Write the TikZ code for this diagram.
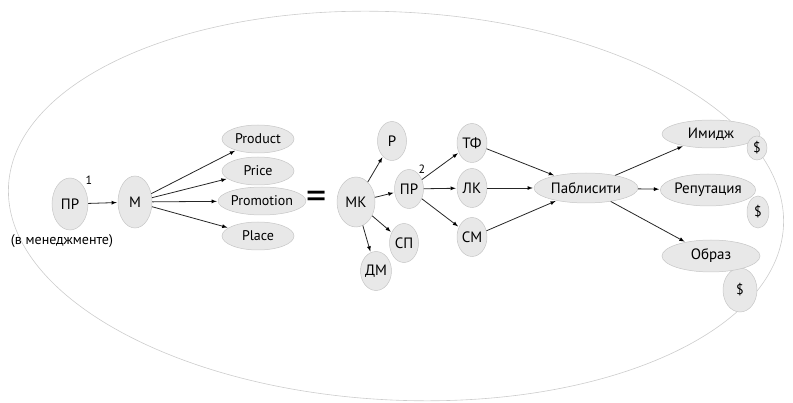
\documentclass[tikz,border=0pt]{standalone}
\usepackage{fontspec}
\setmainfont{PT Sans}
\usetikzlibrary{arrows,shapes.geometric}

\begin{document}
\begin{tikzpicture}[x=1pt,y=-1pt,>=latex,shorten >=1pt,line width=0.8pt,
    main/.style={ellipse,fill=gray!18,draw=gray!45,line width=0.5pt,inner sep=0pt,
      font=\fontsize{15}{17}\selectfont,text=black},
    big/.style={main,minimum width=36pt,minimum height=52pt},
    small/.style={main,minimum width=29pt,minimum height=39pt},
    pill/.style={main,minimum width=72pt,minimum height=28pt,font=\fontsize{14}{16}\selectfont},
    wide/.style={main,minimum width=98pt,minimum height=30pt},
    dollar/.style={main,font=\fontsize{14}{16}\selectfont}]
  \useasboundingbox (0,0) rectangle (793,403);
  \draw[gray!40,line width=0.6pt,rotate around={-3:(396,206)}] (396,206) ellipse [x radius=388, y radius=194];
  % left part
  \node[big] (pr1) at (70,204) {ПР};
  \node[font=\fontsize{12}{13}\selectfont] (one) at (89,180) {1};
  \node[font=\fontsize{14}{16}\selectfont] (mgmt) at (62,241) {(в менеджменте)};
  \node[big,minimum width=34pt] (m) at (135,202) {М};
  \node[pill] (product) at (258,139) {Product};
  \node[pill] (price) at (258,171) {Price};
  \node[pill] (promotion) at (262,201) {Promotion};
  \node[pill] (place) at (258,236) {Place};
  \node[font=\fontsize{40}{40}\selectfont] (eq) at (317,200) {=};
  % middle part
  \node[big,minimum width=38pt,minimum height=50pt] (mk) at (356,202) {МК};
  \node[small] (p) at (392,141) {Р};
  \node[small] (pr2) at (409,189) {ПР};
  \node[font=\fontsize{12}{13}\selectfont] (two) at (422,169) {2};
  \node[small] (sp) at (404,243) {СП};
  \node[small] (dm) at (376,271) {ДМ};
  \node[small,minimum width=30pt] (tf) at (472,143) {ТФ};
  \node[small,minimum width=30pt] (lk) at (472,188) {ЛК};
  \node[small,minimum width=30pt] (sm) at (472,237) {СМ};
  % right part
  \node[wide,minimum width=104pt] (publ) at (586,188) {Паблисити};
  \node[wide,minimum height=28pt] (img) at (711,134) {Имидж};
  \node[dollar,minimum width=20pt,minimum height=24pt] (d1) at (757,148) {\$};
  \node[wide,minimum width=94pt,minimum height=32pt] (rep) at (708,190) {Репутация};
  \node[dollar,minimum width=22pt,minimum height=32pt] (d2) at (758,212) {\$};
  \node[dollar,minimum width=34pt,minimum height=44pt] (d3) at (740,290) {\$};
  \node[wide,minimum height=32pt] (obr) at (711,256) {Образ};
  \path[->,draw=black!85]
    (pr1) edge (m)
    (m) edge (product) edge (price) edge (promotion) edge (place)
    (mk) edge (p) edge (pr2) edge (sp) edge (dm)
    (pr2) edge (tf) edge (lk) edge (sm)
    (tf) edge (publ)
    (lk) edge (publ)
    (sm) edge (publ)
    (publ) edge (img) edge (rep) edge (obr);
\end{tikzpicture}
\end{document}
